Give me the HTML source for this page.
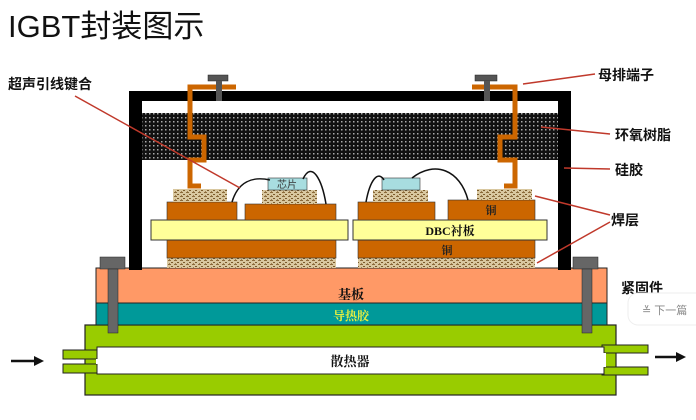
<!DOCTYPE html>
<html><head><meta charset="utf-8"><style>
html,body{margin:0;padding:0;background:#fff;width:696px;height:420px;overflow:hidden}
svg{display:block}
text{font-family:"Liberation Sans","Noto Sans CJK SC",sans-serif}
.s{font-family:"Liberation Serif","Noto Serif CJK SC",serif;font-weight:bold}
</style></head><body>
<svg width="696" height="420" viewBox="0 0 696 420" xmlns="http://www.w3.org/2000/svg">
<defs>
<pattern id="dots" width="4" height="4" patternUnits="userSpaceOnUse">
<rect width="4" height="4" fill="#111"/><rect x="1" y="1" width="1.5" height="1.5" fill="#aaa"/></pattern>
<pattern id="sol" width="6" height="4" patternUnits="userSpaceOnUse">
<rect width="6" height="4" fill="#d9c8a0"/><rect x="0" y="0" width="3" height="1" fill="#8a6a3a"/><rect x="3" y="2" width="2" height="1" fill="#7a5a2a"/><rect x="1" y="3" width="1" height="1" fill="#a08050"/></pattern>
</defs>
<text x="8" y="37" font-size="31" fill="#111">IGBT封装图示</text>

<!-- heatsink -->
<rect x="85" y="325" width="531" height="70" fill="#99cc00" stroke="#222" stroke-width="1.2"/>
<rect x="63" y="350" width="36" height="9" fill="#99cc00" stroke="#222"/>
<rect x="63" y="364" width="36" height="9" fill="#99cc00" stroke="#222"/>
<rect x="602" y="345" width="46" height="8" fill="#99cc00" stroke="#222"/>
<rect x="602" y="367" width="46" height="8" fill="#99cc00" stroke="#222"/>
<rect x="97" y="347" width="507" height="27" fill="#fff" stroke="#222"/>
<rect x="96" y="359" width="4" height="5" fill="#fff"/>
<rect x="600" y="353" width="6" height="14" fill="#fff"/>
<text x="350" y="366" font-size="13" text-anchor="middle" class="s" fill="#111">散热器</text>
<path d="M11 361H36" stroke="#111" stroke-width="2.5"/><path d="M34 356L44 361L34 366Z" fill="#111"/>
<path d="M655 357H678" stroke="#111" stroke-width="2.5"/><path d="M676 352L686 357L676 362Z" fill="#111"/>

<!-- glue & base -->
<rect x="96" y="303" width="511" height="22" fill="#009999" stroke="#222"/>
<text x="351" y="320" font-size="12" text-anchor="middle" class="s" fill="#e8f040">导热胶</text>
<rect x="96" y="268" width="511" height="35" fill="#ff9966" stroke="#222"/>
<text x="351" y="299" font-size="13" text-anchor="middle" class="s" fill="#111">基板</text>

<!-- frame -->
<path d="M129 91H571V270H558V101H142V270H129Z" fill="#000"/>
<rect x="142" y="113" width="416" height="47" fill="url(#dots)"/>

<!-- left module -->
<rect x="167" y="258" width="169" height="10" fill="url(#sol)"/>
<rect x="167" y="240" width="169" height="18" fill="#cc6600" stroke="#333" stroke-width=".6"/>
<rect x="151" y="220" width="197" height="20" fill="#ffff99" stroke="#333"/>
<rect x="167" y="202" width="70" height="18" fill="#cc6600" stroke="#333" stroke-width=".6"/>
<rect x="245" y="204" width="91" height="16" fill="#cc6600" stroke="#333" stroke-width=".6"/>
<rect x="173" y="189" width="54" height="13" fill="url(#sol)"/>
<rect x="262" y="190" width="55" height="14" fill="url(#sol)"/>
<rect x="268" y="178" width="39" height="12" fill="#a8dde0" stroke="#333" stroke-width=".6"/>
<text x="287" y="188" font-size="10" text-anchor="middle" fill="#333">芯片</text>
<!-- right module -->
<rect x="358" y="258" width="177" height="10" fill="url(#sol)"/>
<rect x="358" y="240" width="177" height="18" fill="#cc6600" stroke="#333" stroke-width=".6"/>
<text x="447" y="254" font-size="11" text-anchor="middle" class="s" fill="#222">铜</text>
<rect x="353" y="220" width="194" height="20" fill="#ffff99" stroke="#333"/>
<text x="450" y="235" font-size="12" text-anchor="middle" class="s" fill="#111">DBC衬板</text>
<rect x="358" y="202" width="77" height="18" fill="#cc6600" stroke="#333" stroke-width=".6"/>
<rect x="448" y="200" width="87" height="20" fill="#cc6600" stroke="#333" stroke-width=".6"/>
<text x="491" y="214" font-size="11" text-anchor="middle" class="s" fill="#222">铜</text>
<rect x="373" y="190" width="55" height="12" fill="url(#sol)"/>
<rect x="477" y="189" width="55" height="11" fill="url(#sol)"/>
<rect x="382" y="178" width="38" height="12" fill="#a8dde0" stroke="#333" stroke-width=".6"/>

<!-- wires -->
<g fill="none" stroke="#111" stroke-width="1.5">
<path d="M232 202C238 182 252 176 270 180"/>
<path d="M303 179C312 160 322 180 326 204"/>
<path d="M366 202C370 180 378 170 384 180"/>
<path d="M412 178C435 160 460 170 468 200"/>
</g>

<!-- terminals -->
<g fill="none" stroke="#cc6600" stroke-width="5" stroke-linejoin="miter">
<path d="M236 87H190V137H204V160H190V186H201"/>
<path d="M472 87H515V137H500V160H515V186H504"/>
</g>
<rect x="208" y="75" width="20" height="6" fill="#555" stroke="#222" stroke-width=".5"/>
<rect x="216" y="81" width="6" height="20" fill="#555"/>
<rect x="475" y="75" width="22" height="6" fill="#555" stroke="#222" stroke-width=".5"/>
<rect x="484" y="81" width="6" height="20" fill="#555"/>

<!-- bolts -->
<rect x="100" y="257" width="25" height="12" fill="#666" stroke="#222" stroke-width=".5"/>
<rect x="108" y="269" width="10" height="64" fill="#666" stroke="#222" stroke-width=".5"/>
<rect x="573" y="257" width="25" height="12" fill="#666" stroke="#222" stroke-width=".5"/>
<rect x="582" y="269" width="10" height="64" fill="#666" stroke="#222" stroke-width=".5"/>

<!-- leaders -->
<g stroke="#c0392b" stroke-width="1.5" fill="none">
<path d="M75 96L240 188"/>
<path d="M595 74L523 84"/>
<path d="M610 134L541 127"/>
<path d="M610 169L564 168"/>
<path d="M610 215L535 196"/>
<path d="M610 222L537 263"/>
</g>

<g font-size="14" class="s" fill="#111">
<text x="8" y="89">超声引线键合</text>
<text x="598" y="80">母排端子</text>
<text x="615" y="140">环氧树脂</text>
<text x="615" y="175">硅胶</text>
<text x="611" y="225">焊层</text>
<text x="621" y="293">紧固件</text>
</g>
<rect x="628" y="293" width="80" height="32" rx="10" fill="#fff" stroke="#eee"/>
<text x="642" y="314" font-size="11" fill="#888">≚ 下一篇</text>
</svg>
</body></html>
